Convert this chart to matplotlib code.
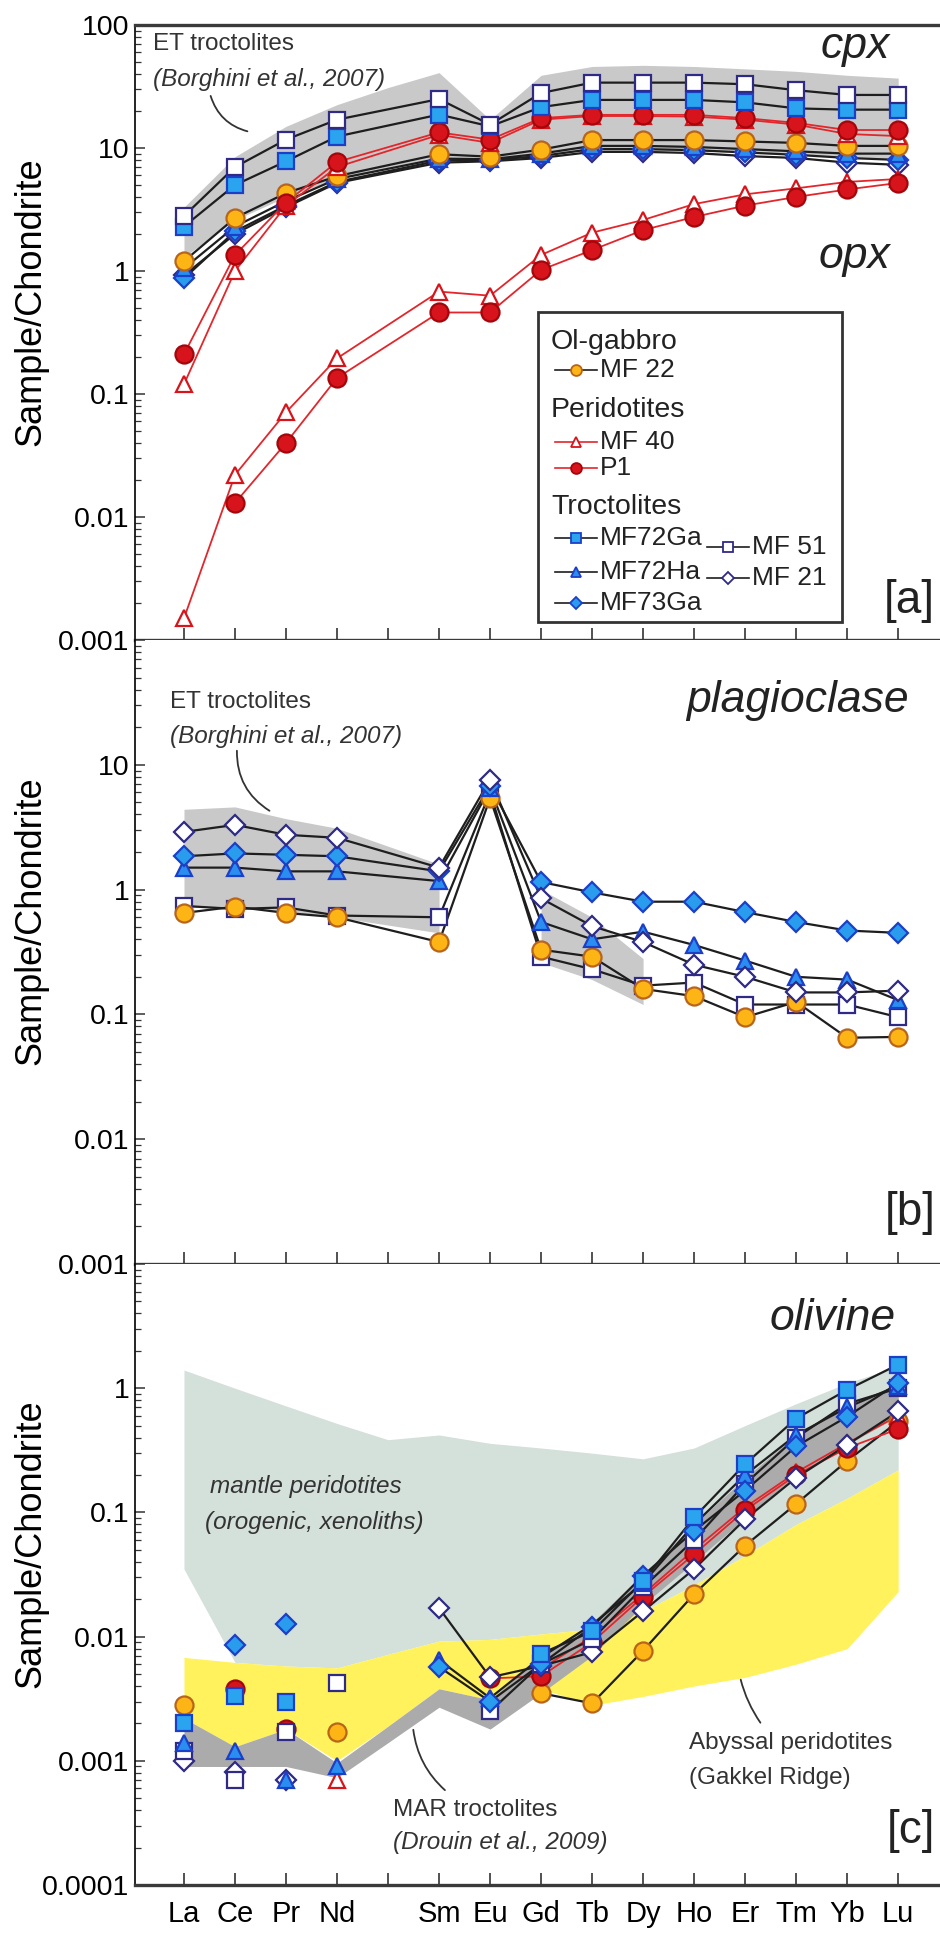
import numpy as np
import matplotlib.pyplot as plt
from matplotlib.patches import Rectangle
from matplotlib.ticker import LogLocator, NullFormatter

plt.rcParams['font.family'] = ['Liberation Sans', 'DejaVu Sans']

nan = np.nan
ree = ['La', 'Ce', 'Pr', 'Nd', '', 'Sm', 'Eu', 'Gd', 'Tb', 'Dy', 'Ho', 'Er', 'Tm', 'Yb', 'Lu']
x = np.arange(len(ree))   # index 4 is Pm: tick only, no data

# ---- [a] clinopyroxene
cpx_mf22 = [1.2, 2.7, 4.3, 5.9, nan, 8.9, 8.5, 9.7, 11.6, 11.6, 11.6, 11.3, 11.0, 10.4, 10.4]
cpx_mf40 = [0.12, 1.0, 3.4, 7.0, nan, 12.8, 11.0, 17.0, 18.2, 18.2, 18.0, 17.0, 15.5, 13.0, 12.5]
cpx_p1 = [0.21, 1.35, 3.6, 7.7, nan, 13.4, 11.7, 17.5, 18.6, 18.6, 18.6, 17.5, 16.0, 14.0, 14.0]
cpx_mf72ga = [2.3, 5.0, 7.8, 12.4, nan, 18.7, 15.0, 21.5, 24.6, 24.6, 24.6, 23.5, 21.0, 20.5, 20.5]
cpx_mf72ha = [1.05, 2.3, 3.7, 5.6, nan, 8.2, 8.1, 9.0, 10.4, 10.4, 10.2, 9.8, 9.4, 9.0, 9.0]
cpx_mf73ga = [0.87, 2.1, 3.4, 5.3, nan, 7.9, 8.0, 8.6, 9.8, 9.8, 9.6, 9.2, 8.8, 8.3, 8.0]
cpx_mf51 = [2.8, 7.0, 11.7, 17.0, nan, 25.0, 15.5, 28.0, 34.0, 34.0, 34.0, 33.0, 29.5, 27.0, 27.0]
cpx_mf21 = [0.92, 2.0, 3.3, 5.2, nan, 7.6, 7.8, 8.3, 9.3, 9.3, 9.1, 8.6, 8.3, 7.6, 7.3]

# ---- [a] orthopyroxene
opx_mf40 = [0.0015, 0.022, 0.071, 0.195, nan, 0.68, 0.63, 1.35, 2.05, 2.6, 3.5, 4.2, 4.7, 5.3, 5.6]
opx_p1 = [nan, 0.013, 0.04, 0.135, nan, 0.46, 0.46, 1.02, 1.48, 2.15, 2.75, 3.4, 4.0, 4.6, 5.2]

# ---- [b] plagioclase
plag_mf22 = [0.65, 0.73, 0.65, 0.6, nan, 0.38, 5.4, 0.33, 0.29, 0.16, 0.14, 0.095, 0.126, 0.065, 0.066]
plag_mf72ha = [1.5, 1.5, 1.4, 1.4, nan, 1.17, 6.5, 0.55, 0.4, 0.46, 0.36, 0.27, 0.2, 0.19, 0.13]
plag_mf73ga = [1.85, 1.95, 1.9, 1.85, nan, 1.4, 6.8, 1.15, 0.95, 0.8, 0.8, 0.66, 0.55, 0.47, 0.45]
plag_mf51 = [0.74, 0.7, 0.72, 0.62, nan, 0.6, 6.0, 0.29, 0.23, 0.17, 0.18, 0.12, 0.12, 0.12, 0.095]
plag_mf21 = [2.9, 3.3, 2.75, 2.6, nan, 1.5, 7.6, 0.85, 0.51, 0.38, 0.25, 0.2, 0.15, 0.15, 0.155]

# ---- [c] olivine
oliv_mf22 = [0.0028, nan, nan, 0.0017, nan, nan, nan, 0.0035, 0.0029, 0.0077, 0.022, 0.054, 0.117, 0.26, 0.54]
oliv_mf40 = [nan, nan, nan, 0.0007, nan, nan, nan, 0.0055, 0.010, 0.022, 0.05, 0.11, 0.21, 0.36, 0.6]
oliv_p1 = [nan, 0.0038, 0.0018, nan, nan, nan, 0.0046, 0.0048, 0.009, 0.021, 0.046, 0.104, 0.2, 0.33, 0.47]
oliv_mf72ga = [0.002, 0.0033, 0.003, nan, nan, nan, nan, 0.0073, 0.011, 0.028, 0.091, 0.245, 0.57, 0.97, 1.55]
oliv_mf72ha = [0.0014, 0.0012, 0.0007, 0.0009, nan, 0.0065, 0.0032, 0.0068, 0.0125, 0.027, 0.08, 0.2, 0.42, 0.7, 1.05]
oliv_mf73ga = [nan, 0.0085, 0.0126, nan, nan, 0.0057, 0.003, 0.006, 0.012, 0.031, 0.071, 0.15, 0.34, 0.59, 1.1]
oliv_mf51 = [0.0012, 0.0007, 0.0017, 0.0042, nan, nan, 0.0025, 0.006, 0.0095, 0.025, 0.06, 0.17, 0.4, 0.75, 1.0]
oliv_mf21 = [0.001, 0.00082, 0.0007, nan, nan, 0.017, 0.0047, 0.0058, 0.0075, 0.016, 0.035, 0.088, 0.19, 0.35, 0.65]

# ---- reference fields
et_cpx_up = [3.3, 8.5, 15.0, 22.5, 31.0, 41.0, 17.0, 39.0, 46.0, 47.0, 46.0, 44.0, 42.0, 39.0, 37.0]
et_cpx_lo = [1.3, 2.6, 4.0, 5.6, 6.8, 8.0, 7.8, 8.8, 9.6, 9.6, 9.5, 9.2, 8.8, 8.4, 8.0]
et_plag_x1 = [0, 1, 2, 3, 5]
et_plag_up1 = [4.4, 4.6, 3.7, 3.1, 1.6]
et_plag_lo1 = [0.72, 0.72, 0.66, 0.6, 0.45]
et_plag_x2 = [7, 8, 9]
et_plag_up2 = [1.0, 0.6, 0.28]
et_plag_lo2 = [0.26, 0.19, 0.12]
mantle_up = [1.4, 1.0, 0.72, 0.52, 0.385, 0.42, 0.36, 0.33, 0.30, 0.27, 0.33, 0.5, 0.75, 1.1, 1.5]
mantle_lo = [0.035, 0.0062, 0.0058, 0.0056, 0.0072, 0.0092, 0.0095, 0.0105, 0.0115, 0.016, 0.026, 0.045, 0.08, 0.13, 0.22]
gakkel_up = [0.0068, 0.0062, 0.0058, 0.0056, 0.0072, 0.0092, 0.0095, 0.0105, 0.0115, 0.016, 0.026, 0.045, 0.08, 0.13, 0.22]
gakkel_lo = [0.0022, 0.0013, 0.0018, 0.0010, 0.0019, 0.0038, 0.0031, 0.0038, 0.0028, 0.0033, 0.0040, 0.0047, 0.006, 0.008, 0.023]
mar_up = [0.0022, 0.0013, 0.0018, 0.00096, 0.0019, 0.0038, 0.0031, 0.007, 0.013, 0.032, 0.08, 0.19, 0.42, 0.7, 1.05]
mar_lo = [0.0009, 0.0009, 0.0009, 0.00073, 0.0014, 0.0027, 0.0018, 0.0035, 0.007, 0.018, 0.04, 0.09, 0.2, 0.35, 0.6]

black = '#1e1e1e'
red = '#e3262b'
styles = {
    'MF 22': dict(marker='o', ms=13, mfc='#fdb515', mec='#b8651b', lc=black, lw=1.6),
    'MF 40': dict(marker='^', ms=12, mfc='white', mec='#d8141b', lc=red, lw=1.3),
    'P1': dict(marker='o', ms=13, mfc='#d7141b', mec='#a3060b', lc=red, lw=1.3),
    'MF72Ga': dict(marker='s', ms=11.5, mfc='#2aa4ee', mec='#1c3fc8', lc=black, lw=1.6),
    'MF72Ha': dict(marker='^', ms=12, mfc='#2a8ef0', mec='#1c3fc8', lc=black, lw=1.6),
    'MF73Ga': dict(marker='D', ms=10, mfc='#2a9cee', mec='#1c3fc8', lc=black, lw=1.6),
    'MF 51': dict(marker='s', ms=11.5, mfc='white', mec='#2e2a86', lc=black, lw=1.6),
    'MF 21': dict(marker='D', ms=10, mfc='white', mec='#2e2a86', lc=black, lw=1.6),
}


def draw_sample(ax, vals, name, order, first_line=0):
    v = np.array(vals, dtype=float)
    st = styles[name]
    ok = np.isfinite(v)
    seg = ok & (x >= first_line)
    ax.plot(x[seg], v[seg], color=st['lc'], lw=st['lw'], zorder=4)
    ax.plot(x[ok], v[ok], ls='none', marker=st['marker'], ms=st['ms'], mfc=st['mfc'],
            mec=st['mec'], mew=1.6, zorder=5 + order * 0.01)


W, H = 940, 1934
left_px, right_px = 135, 940
panels_px = [(25, 640), (640, 1264), (1264, 1885)]
fig = plt.figure(figsize=(W / 100, H / 100), dpi=100)
axes = []
for top, bot in panels_px:
    ax = fig.add_axes([left_px / W, 1 - bot / H, (right_px - left_px) / W, (bot - top) / H])
    axes.append(ax)

ylims = [(0.001, 100), (0.001, 100), (0.0001, 10)]
ylabs = [['0.001', '0.01', '0.1', '1', '10', '100'],
         ['0.001', '0.01', '0.1', '1', '10', ''],
         ['0.0001', '0.001', '0.01', '0.1', '1', '']]
for i, ax in enumerate(axes):
    ax.set_yscale('log')
    ax.set_ylim(*ylims[i])
    ax.set_xlim(-0.96, 14.82)
    lo = np.log10(ylims[i][0])
    ax.set_yticks(10.0 ** np.arange(lo, lo + 6))
    ax.set_yticklabels(ylabs[i])
    ax.yaxis.set_minor_locator(LogLocator(base=10, subs=np.arange(2, 10)))
    ax.yaxis.set_minor_formatter(NullFormatter())
    ax.tick_params(axis='y', which='major', direction='in', length=7, width=1.1,
                   labelsize=20.5, pad=4, color='#333333')
    ax.tick_params(axis='y', which='minor', direction='in', length=4, width=0.9, color='#333333')
    ax.set_xticks(x)
    ax.tick_params(axis='x', direction='in', length=9, width=1.2, color='#333333',
                   labelbottom=(i == 2), labelsize=21, pad=11)
    ax.spines['right'].set_visible(False)
    ax.spines['left'].set_linewidth(1.2)
    ax.spines['bottom'].set_linewidth(2.4)
    ax.spines['bottom'].set_color('#3a3a3a')
    ax.spines['top'].set_linewidth(2.4)
    ax.spines['top'].set_color('#3a3a3a')
    if i > 0:
        ax.spines['top'].set_visible(False)
    ax.set_ylabel('Sample/Chondrite', fontsize=26)
    ax.yaxis.set_label_coords(-0.108, 0.55)
axes[2].set_xticklabels(ree)

note = dict(color='#333333', fontsize=17.5, va='center', ha='left')
leader = dict(arrowstyle='-', color='#333333', lw=1.3)

# ================= [a] cpx / opx
ax = axes[0]
ax.fill_between(x, et_cpx_lo, et_cpx_up, color='#c9c9c9', lw=0, zorder=1)
for vals, name, k in [(cpx_mf21, 'MF 21', 0), (cpx_mf73ga, 'MF73Ga', 1), (cpx_mf72ha, 'MF72Ha', 2),
                      (cpx_mf22, 'MF 22', 3), (cpx_mf40, 'MF 40', 4), (cpx_p1, 'P1', 5),
                      (opx_mf40, 'MF 40', 6), (opx_p1, 'P1', 7),
                      (cpx_mf72ga, 'MF72Ga', 8), (cpx_mf51, 'MF 51', 9)]:
    draw_sample(ax, vals, name, k)

ax.text(0.0224, 0.969, 'ET troctolites', transform=ax.transAxes, **note)
ax.text(0.0224, 0.911, '(Borghini et al., 2007)', transform=ax.transAxes, style='italic', **note)
ax.annotate('', xy=(0.143, 0.826), xytext=(0.093, 0.889), xycoords='axes fraction',
            arrowprops=dict(connectionstyle='arc3,rad=0.3', **leader))
ax.text(0.938, 0.946, 'cpx', transform=ax.transAxes, fontsize=32, style='italic',
        ha='right', va='baseline', color='#222222')
ax.text(0.938, 0.605, 'opx', transform=ax.transAxes, fontsize=32, style='italic',
        ha='right', va='baseline', color='#222222')
ax.text(0.994, 0.044, '[a]', transform=ax.transAxes, fontsize=33, ha='right',
        va='baseline', color='#222222')

# legend box
ax.add_patch(Rectangle((0.5006, 0.0293), 0.3777, 0.504, transform=ax.transAxes,
                       facecolor='white', edgecolor='#333333', lw=2, zorder=8))
hdr = dict(transform=ax.transAxes, fontsize=20.5, va='center', ha='left', zorder=9, color='#222222')
ent = dict(transform=ax.transAxes, fontsize=19, va='center', ha='left', zorder=9, color='#222222')
ax.text(0.5168, 0.4846, 'Ol-gabbro', **hdr)
ax.text(0.5168, 0.374, 'Peridotites', **hdr)
ax.text(0.5168, 0.2163, 'Troctolites', **hdr)
legend_items = [('MF 22', 0.5217, 0.439), ('MF 40', 0.5217, 0.322), ('P1', 0.5217, 0.2797),
                ('MF72Ga', 0.5217, 0.1659), ('MF72Ha', 0.5217, 0.1106), ('MF73Ga', 0.5217, 0.0602),
                ('MF 51', 0.7106, 0.1512), ('MF 21', 0.7106, 0.1008)]
for name, lx, ly in legend_items:
    st = styles[name]
    ax.plot([lx, lx + 0.052], [ly, ly], transform=ax.transAxes, color=st['lc'], lw=1.2, zorder=9)
    ax.plot([lx + 0.026], [ly], transform=ax.transAxes, ls='none', marker=st['marker'],
            ms=st['ms'] * 0.6, mfc=st['mfc'], mec=st['mec'], mew=1.3, zorder=10)
    ax.text(lx + 0.056, ly, name, **ent)

# ================= [b] plagioclase
ax = axes[1]
ax.fill_between(et_plag_x1, et_plag_lo1, et_plag_up1, color='#c9c9c9', lw=0, zorder=1)
ax.fill_between(et_plag_x2, et_plag_lo2, et_plag_up2, color='#c9c9c9', lw=0, zorder=1)
for vals, name, k in [(plag_mf51, 'MF 51', 0), (plag_mf22, 'MF 22', 1), (plag_mf72ha, 'MF72Ha', 2),
                      (plag_mf73ga, 'MF73Ga', 3), (plag_mf21, 'MF 21', 4)]:
    draw_sample(ax, vals, name, k)
ax.text(0.0435, 0.9006, 'ET troctolites', transform=ax.transAxes, **note)
ax.text(0.0435, 0.8446, '(Borghini et al., 2007)', transform=ax.transAxes, style='italic', **note)
ax.annotate('', xy=(0.170, 0.724), xytext=(0.1267, 0.827), xycoords='axes fraction',
            arrowprops=dict(connectionstyle='arc3,rad=0.3', **leader))
ax.text(0.9615, 0.8846, 'plagioclase', transform=ax.transAxes, fontsize=32, style='italic',
        ha='right', va='baseline', color='#222222')
ax.text(0.994, 0.0625, '[b]', transform=ax.transAxes, fontsize=33, ha='right',
        va='baseline', color='#222222')

# ================= [c] olivine
ax = axes[2]
ax.fill_between(x, mantle_lo, mantle_up, color='#d4e0da', lw=0, zorder=1)
ax.fill_between(x, gakkel_lo, gakkel_up, color='#fff25c', lw=0, zorder=2)
ax.fill_between(x, mar_lo, mar_up, color='#ababab', lw=0, zorder=3)
for vals, name, k in [(oliv_mf22, 'MF 22', 0), (oliv_mf40, 'MF 40', 1), (oliv_p1, 'P1', 2),
                      (oliv_mf21, 'MF 21', 3), (oliv_mf51, 'MF 51', 4), (oliv_mf72ha, 'MF72Ha', 5),
                      (oliv_mf73ga, 'MF73Ga', 6), (oliv_mf72ga, 'MF72Ga', 7)]:
    draw_sample(ax, vals, name, k, first_line=5)
ax.text(0.945, 0.894, 'olivine', transform=ax.transAxes, fontsize=32, style='italic',
        ha='right', va='baseline', color='#222222')
ax.text(0.0932, 0.641, 'mantle peridotites', transform=ax.transAxes, style='italic', **note)
ax.text(0.087, 0.5845, '(orogenic, xenoliths)', transform=ax.transAxes, style='italic', **note)
ax.text(0.3205, 0.1208, 'MAR troctolites', transform=ax.transAxes, **note)
ax.text(0.3205, 0.0692, '(Drouin et al., 2009)', transform=ax.transAxes, style='italic', **note)
ax.text(0.688, 0.2287, 'Abyssal peridotites', transform=ax.transAxes, **note)
ax.text(0.688, 0.1723, '(Gakkel Ridge)', transform=ax.transAxes, **note)
ax.annotate('', xy=(0.3876, 0.1498), xytext=(0.3453, 0.2544), xycoords='axes fraction',
            arrowprops=dict(connectionstyle='arc3,rad=0.2', **leader))
ax.annotate('', xy=(0.7789, 0.2577), xytext=(0.7516, 0.335), xycoords='axes fraction',
            arrowprops=dict(connectionstyle='arc3,rad=0.1', **leader))
ax.text(0.994, 0.0676, '[c]', transform=ax.transAxes, fontsize=33, ha='right',
        va='baseline', color='#222222')

fig.savefig('out.png', dpi=100)
